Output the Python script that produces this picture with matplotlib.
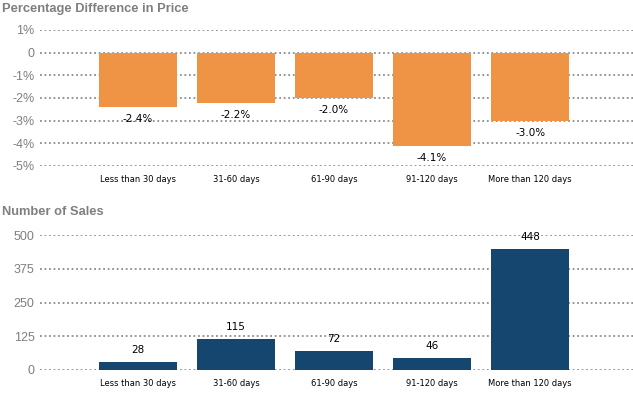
import matplotlib.pyplot as plt
import numpy as np

categories = ["Less than 30 days", "31-60 days", "61-90 days", "91-120 days", "More than 120 days"]
pct_diff = [-2.4, -2.2, -2.0, -4.1, -3.0]
num_sales = [28, 115, 72, 46, 448]

pct_ticks = [1, 0, -1, -2, -3, -4, -5]
pct_tick_labels = ["1%", "0", "-1%", "-2%", "-3%", "-4%", "-5%"]
sales_ticks = [0, 125, 250, 375, 500]

orange = "#EF9444"
navy = "#154670"
gray_text = "#7F7F7F"
grid_col = "#8C8C8C"

fig = plt.figure(figsize=(6.33, 4.0), dpi=100)
ax1 = fig.add_axes([0.0632, 0.585, 0.9368, 0.34])
ax2 = fig.add_axes([0.0632, 0.075, 0.9368, 0.3375])

x = np.arange(len(categories))


def style_axis(ax, ticks, labels, ylim):
    ax.set_xlim(-1.0, 5.05)
    ax.set_ylim(*ylim)
    for t in ticks:
        ax.axhline(t, color=grid_col, linewidth=1.3, linestyle=(0, (1, 1.5)), zorder=0)
    ax.set_yticks(ticks)
    ax.set_yticklabels(labels, family="Liberation Sans", fontsize=9, color=gray_text)
    ax.tick_params(axis="y", length=0, pad=4)
    ax.set_xticks([])
    for s in ax.spines.values():
        s.set_visible(False)
    ax.patch.set_alpha(0)


# Top chart: percentage difference in price
ax1.bar(x, pct_diff, width=0.8, color=orange, zorder=2)
style_axis(ax1, pct_ticks, pct_tick_labels, (-5, 1))
for xi, v in zip(x, pct_diff):
    ax1.annotate(f"{v:.1f}%", (xi, v), xytext=(0, -12), textcoords="offset pixels",
                 ha="center", va="center", fontsize=7.5, family="DejaVu Sans", color="black")
for xi, c in zip(x, categories):
    ax1.annotate(c, (xi, -5), xytext=(0, -14), textcoords="offset pixels",
                 ha="center", va="center", fontsize=6, family="DejaVu Sans", color="black",
                 annotation_clip=False)

# Bottom chart: number of sales
ax2.bar(x, num_sales, width=0.8, color=navy, zorder=2)
style_axis(ax2, sales_ticks, [str(t) for t in sales_ticks], (0, 500))
for xi, v in zip(x, num_sales):
    ax2.annotate(f"{v}", (xi, v), xytext=(0, 12), textcoords="offset pixels",
                 ha="center", va="center", fontsize=7.5, family="DejaVu Sans", color="black",
                 annotation_clip=False)
for xi, c in zip(x, categories):
    ax2.annotate(c, (xi, 0), xytext=(0, -14), textcoords="offset pixels",
                 ha="center", va="center", fontsize=6, family="DejaVu Sans", color="black",
                 annotation_clip=False)

fig.text(0.003, 1 - 9 / 400, "Percentage Difference in Price", ha="left", va="center",
         fontsize=9.3, fontweight="bold", family="Liberation Sans", color=gray_text)
fig.text(0.003, 1 - 212 / 400, "Number of Sales", ha="left", va="center",
         fontsize=9.3, fontweight="bold", family="Liberation Sans", color=gray_text)

fig.savefig("out.png", dpi=100)
